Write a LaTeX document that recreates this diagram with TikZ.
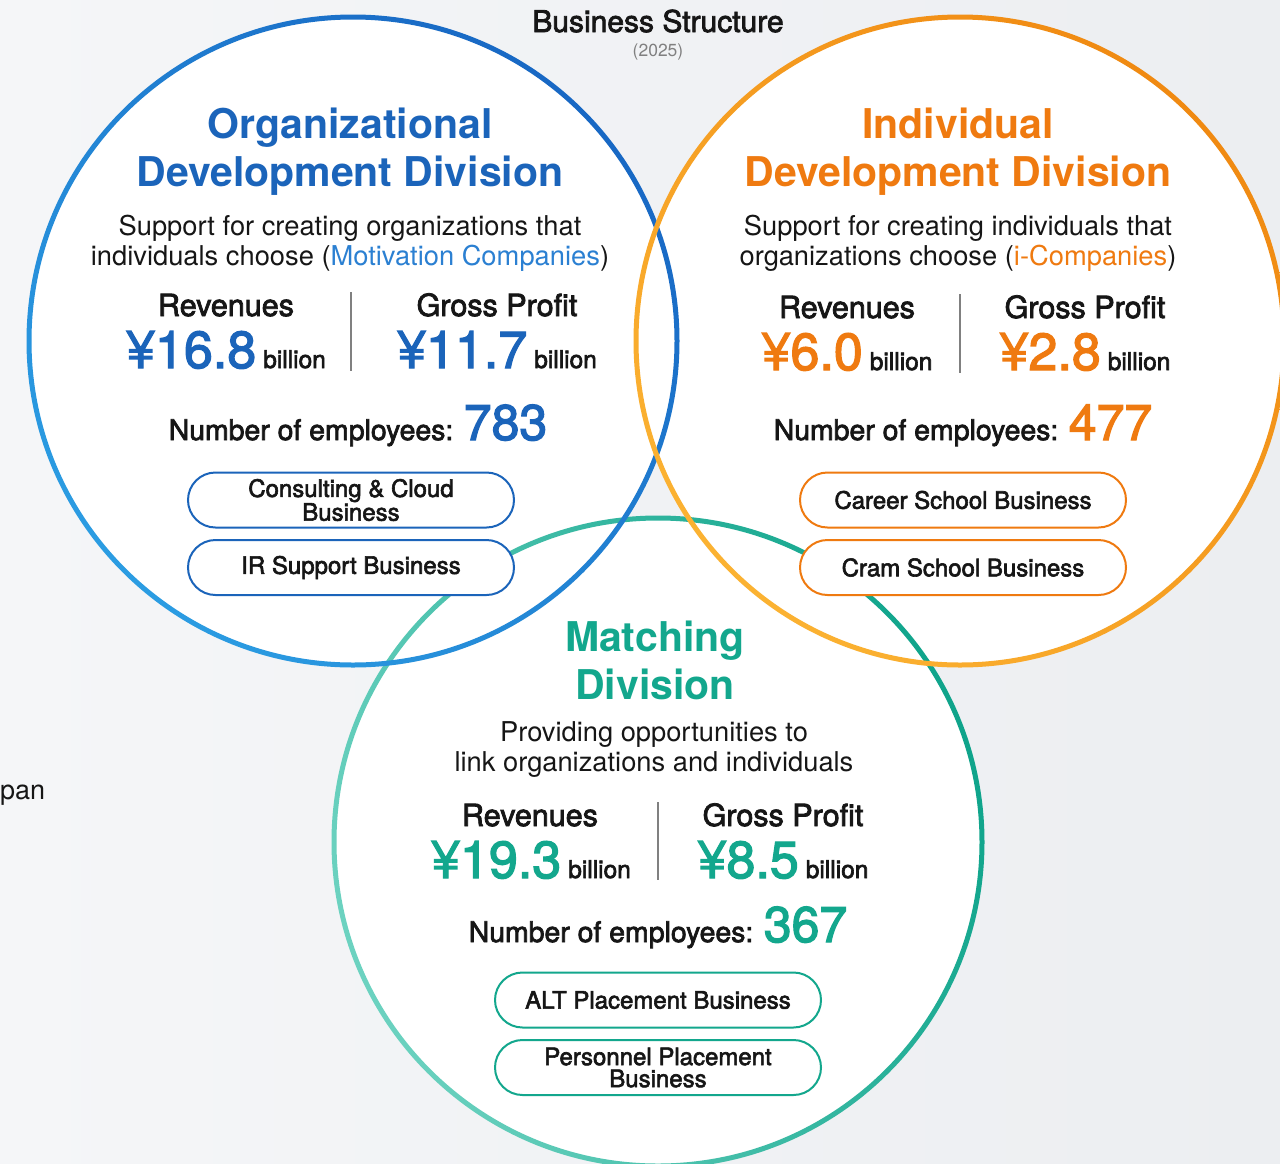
\documentclass[tikz,border=0pt]{standalone}
\usepackage{fontspec}
\setmainfont{TeX Gyre Heros}
\newfontfamily\mdfont[FakeBold = 2.5]{TeX Gyre Heros}
\definecolor{inkgray}{HTML}{161616}
\definecolor{bgL}{HTML}{F5F6F8}
\definecolor{bgR}{HTML}{ECEEF1}
\definecolor{orgblue}{HTML}{1B64BA}
\definecolor{orglink}{HTML}{2B80D2}
\definecolor{ringblueD}{HTML}{1868C4}
\definecolor{ringblueL}{HTML}{2B9CE2}
\definecolor{indorange}{HTML}{EF7A10}
\definecolor{ringorangeD}{HTML}{F08A12}
\definecolor{ringorangeL}{HTML}{FBB232}
\definecolor{matgreen}{HTML}{13A78D}
\definecolor{ringgreenD}{HTML}{0FA48B}
\definecolor{ringgreenL}{HTML}{6CD2C0}
\newcommand\bignum[2]{\textcolor{#1}{\fontsize{52}{56}\selectfont #2}\hspace{7pt}billion}
\newcommand\staffnum[2]{Number of employees: \textcolor{#1}{\fontsize{50}{52}\selectfont #2}}
\begin{document}
\begin{tikzpicture}[x = 1pt, y = -1pt,
  ring/.style n args = {3}{top color = #1, bottom color = #2, shading angle = #3, even odd rule},
  txt/.style = {inner sep = 0, anchor = base, text = inkgray},
  divtitle/.style = {txt, text = #1, font = \bfseries\fontsize{41}{48}\selectfont},
  desc/.style = {txt, font = \fontsize{27.3}{30}\selectfont},
  head/.style = {txt, font = \mdfont\fontsize{30.5}{32}\selectfont},
  amount/.style = {txt, font = \mdfont\fontsize{24.5}{26}\selectfont},
  staff/.style = {txt, font = \mdfont\fontsize{28.4}{30}\selectfont},
  bizbox/.style = {draw = #1, line width = 2pt, fill = white, rounded corners = 27.5pt,
    minimum width = 326, minimum height = 55, inner sep = 0, align = center, text = inkgray,
    font = \mdfont\fontsize{24}{22}\selectfont}
]
\useasboundingbox (0, 0) rectangle (1280, 1163);
\shade[left color = bgL, right color = bgR] (0, 0) rectangle (1280, 1163);

% discs first, then the rings over them
\foreach \cx/\cy in {353/341, 960/341, 658/842}
  \fill[white] (\cx, \cy) circle[radius = 324];
\shade[ring = {ringgreenD}{ringgreenL}{-70}] (658, 842) circle[radius = 326.5] circle[radius = 321.5];
\shade[ring = {ringblueD}{ringblueL}{-45}] (353, 341) circle[radius = 326.5] circle[radius = 321.5];
\shade[ring = {ringorangeD}{ringorangeL}{-45}] (960, 341) circle[radius = 326.5] circle[radius = 321.5];

\node[txt, font = \mdfont\fontsize{30}{30}\selectfont] (title) at (658, 32) {Business Structure};
\node[txt, text = gray, font = \fontsize{17.5}{17.5}\selectfont] (year) at (658, 56) {(2025)};
\node[txt, anchor = base west, font = \fontsize{27}{27}\selectfont] (pan) at (0, 799) {pan};

% Organizational
\node[divtitle = orgblue] (orgA) at (350, 138) {Organizational};
\node[divtitle = orgblue] (orgB) at (350, 186) {Development Division};
\node[desc] (orgdescA) at (350, 235) {Support for creating organizations that};
\node[desc] (orgdescB) at (350, 265) {individuals choose (\textcolor{orglink}{Motivation Companies})};
\node[head] (orgrev) at (226, 316) {Revenues};
\node[head] (orggp) at (497, 316) {Gross Profit};
\node[amount] (orgrevval) at (226, 368) {\bignum{orgblue}{¥16.8}};
\node[amount] (orggpval) at (497, 368) {\bignum{orgblue}{¥11.7}};
\draw[gray, line width = 1.2pt] (351, 292) -- (351, 371);
\node[staff] (orgstaff) at (358, 440) {\staffnum{orgblue}{783}};
\node[bizbox = orgblue] (consult) at (351, 500) {Consulting \& Cloud\\Business};
\node[bizbox = orgblue] (irsupport) at (351, 567.5) {IR Support Business};

% Individual
\node[divtitle = indorange] (indA) at (958, 138) {Individual};
\node[divtitle = indorange] (indB) at (958, 186) {Development Division};
\node[desc] (inddescA) at (958, 235) {Support for creating individuals that};
\node[desc] (inddescB) at (958, 265) {organizations choose (\textcolor{indorange}{i-Companies})};
\node[head] (indrev) at (847, 318) {Revenues};
\node[head] (indgp) at (1085, 318) {Gross Profit};
\node[amount] (indrevval) at (847, 370) {\bignum{indorange}{¥6.0}};
\node[amount] (indgpval) at (1085, 370) {\bignum{indorange}{¥2.8}};
\draw[gray, line width = 1.2pt] (960, 294) -- (960, 373);
\node[staff] (indstaff) at (963, 440) {\staffnum{indorange}{477}};
\node[bizbox = indorange] (career) at (963, 500) {Career School Business};
\node[bizbox = indorange] (cram) at (963, 567.5) {Cram School Business};

% Matching
\node[divtitle = matgreen] (matA) at (655, 651) {Matching};
\node[divtitle = matgreen] (matB) at (655, 699) {Division};
\node[desc] (matdescA) at (654, 741) {Providing opportunities to};
\node[desc] (matdescB) at (654, 771) {link organizations and individuals};
\node[head] (matrev) at (530, 826) {Revenues};
\node[head] (matgp) at (783, 826) {Gross Profit};
\node[amount] (matrevval) at (531, 878) {\bignum{matgreen}{¥19.3}};
\node[amount] (matgpval) at (783, 878) {\bignum{matgreen}{¥8.5}};
\draw[gray, line width = 1.2pt] (658, 802) -- (658, 880);
\node[staff] (matstaff) at (658, 942) {\staffnum{matgreen}{367}};
\node[bizbox = matgreen] (alt) at (658, 1000) {ALT Placement Business};
\node[bizbox = matgreen] (personnel) at (658, 1067.5) {Personnel Placement\\Business};
\end{tikzpicture}
\end{document}
